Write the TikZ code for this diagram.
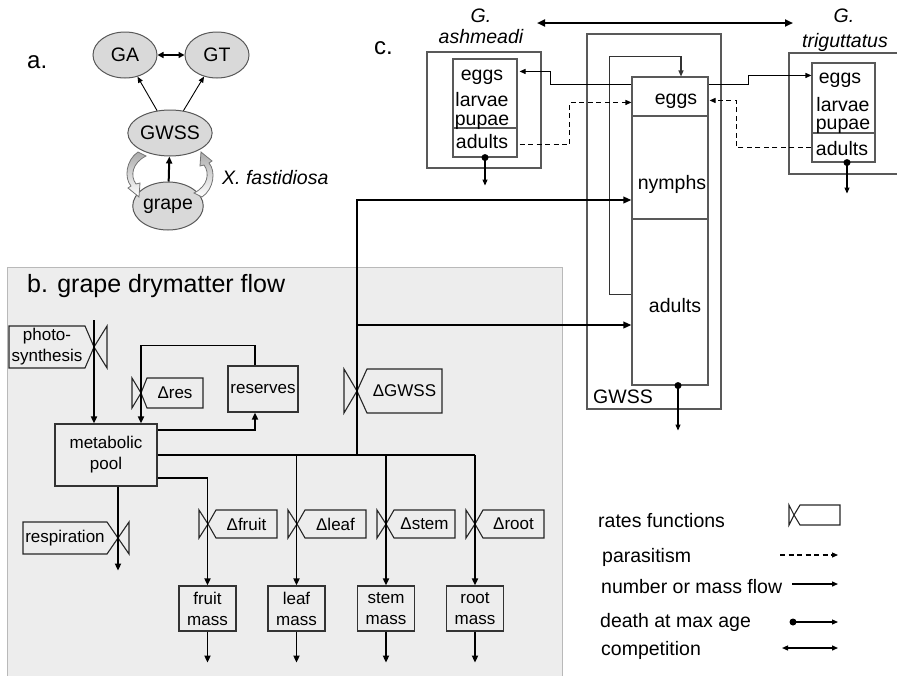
\documentclass[tikz,border=0pt]{standalone}
\usepackage{fontspec}
\setmainfont{Liberation Sans}
\usetikzlibrary{arrows.meta,shapes.geometric,calc}

\newcommand{\fA}{\fontsize{19.5}{22}\selectfont}
\newcommand{\fB}{\fontsize{17}{21}\selectfont}
\newcommand{\fT}{\fontsize{25}{28}\selectfont}
\newcommand{\fL}{\fontsize{24}{28}\selectfont}

% rate function symbol: X, Y, half height, triangle width, chamfer, box length, name, text
\newcommand{\myrate}[8]{%
  \draw[ratesh] ({#1-(#4)},{#2-(#3)}) -- (#1,#2) -- ({#1-(#4)},{#2+(#3)}) -- cycle;
  \draw[ratesh] (#1,#2) -- ({#1+(#5)},{#2-(#3)}) -- ({#1+(#6)},{#2-(#3)}) -- ({#1+(#6)},{#2+(#3)}) -- ({#1+(#5)},{#2+(#3)}) -- cycle;
  \node[ratetxt] (#7) at ({#1+((#5)+(#6))/2},#2) {#8};}

\tikzset{
  flow/.style={line width=1.7pt, -{Triangle[length=7pt,width=6pt]}},
  trunk/.style={line width=1.7pt},
  flowc/.style={line width=1.1pt, -{Triangle[length=6pt,width=5pt]}},
  flowbig/.style={line width=1.8pt, -{Triangle[length=8pt,width=6.5pt]}},
  para/.style={line width=1.1pt, dash pattern=on 5pt off 3.5pt, -{Triangle[length=6pt,width=5pt]}},
  bbox/.style={draw=black!80, line width=1.2pt, align=center, inner sep=0pt, font=\fB},
  cbox/.style={draw=black!65, line width=1.1pt, inner sep=0pt},
  ell/.style={ellipse, draw=black!65, fill=gray!30, line width=1pt, inner sep=0pt, font=\fA},
  ratesh/.style={draw=black!85, line width=1.1pt},
  ratetxt/.style={font=\fB, inner sep=0pt, align=center},
  ctxt/.style={font=\fA, inner sep=0pt, anchor=base},
  ltxt/.style={font=\fA, inner sep=0pt, anchor=base west},
}

\begin{document}
\begin{tikzpicture}[x=1pt,y=-1pt]
\useasboundingbox (0,0) rectangle (897,675);

% ---------------- panel a ----------------
\node[ltxt, font=\fL] (alabel) at (27,68) {a.};
\node[ell, minimum width=64pt, minimum height=46pt] (GA) at (125,55) {GA};
\node[ell, minimum width=64pt, minimum height=46pt] (GT) at (217,55) {GT};
\node[ell, minimum width=65pt, minimum height=46pt] (GW) at (170,133) {GWSS};
\node[ell, minimum width=61pt, minimum height=48pt] (grape) at (168,206) {grape};
\draw[line width=2pt, {Triangle[length=6pt,width=6pt]}-{Triangle[length=6pt,width=6pt]}] (GA) -- (GT);
\draw[line width=0.9pt, -{Triangle[length=6pt,width=5pt]}] (GW) -- (GA);
\draw[line width=0.9pt, -{Triangle[length=6pt,width=5pt]}] (GW) -- (GT);
\draw[line width=2pt, -{Triangle[length=7pt,width=6pt]}] (grape) -- (GW);
\shadedraw[top color=gray!65, bottom color=white, draw=black!55, line width=0.8pt]
  (138,152) .. controls (126,160) and (124,178) .. (131,186) -- (128,188) -- (139,197)
  -- (140,183) -- (136,184) .. controls (130,176) and (132,163) .. (146,156) -- cycle;
\begin{scope}[rotate around={180:(170,174.5)}]
\shadedraw[top color=gray!65, bottom color=white, draw=black!55, line width=0.8pt]
  (138,152) .. controls (126,160) and (124,178) .. (131,186) -- (128,188) -- (139,197)
  -- (140,183) -- (136,184) .. controls (130,176) and (132,163) .. (146,156) -- cycle;
\end{scope}
\node[ltxt, font=\fA\itshape] (xf) at (222,184) {X. fastidiosa};

% ---------------- panel b ----------------
\fill[gray!14] (7,267) rectangle (562,690);
\draw[gray!55, line width=1pt] (7,690) -- (7,267) -- (562,267) -- (562,690);
\node[ltxt, font=\fT] (btitle) at (27,292) {b. grape drymatter flow};

\node[bbox, minimum width=102pt, minimum height=62pt] (pool) at (106,455) {metabolic\\pool};
\node[bbox, minimum width=70pt, minimum height=46pt] (res) at (263,389) {reserves};
\node[bbox, minimum width=57pt, minimum height=45pt] (fruit) at (207.5,608.5) {fruit\\mass};
\node[bbox, minimum width=57pt, minimum height=45pt] (leaf) at (296.5,608.5) {leaf\\mass};
\node[bbox, minimum width=57pt, minimum height=45pt] (stem) at (386,608.5) {stem\\mass};
\node[bbox, minimum width=57pt, minimum height=45pt] (root) at (475,608.5) {root\\mass};

\myrate{94}{347}{21}{-13}{-9}{-85}{rphoto}{photo-\\synthesis}
\myrate{141}{393}{15}{9}{6}{62}{rres}{Δres}
\myrate{357}{391}{22}{13}{10}{85}{rgwss}{ΔGWSS}
\myrate{118}{538}{16}{-11}{-11}{-95}{rresp}{respiration}
\myrate{208}{524}{14}{9}{8}{69}{rfruit}{Δfruit}
\myrate{297}{524}{14}{9}{8}{69}{rleaf}{Δleaf}
\myrate{386}{524}{14}{9}{8}{69}{rstem}{Δstem}
\myrate{475}{524}{14}{9}{8}{69}{rroot}{Δroot}

\coordinate (phtop) at (94,320);
\draw[flow] (phtop) -- ([xshift=-12pt]pool.north);
\draw[flow] ([xshift=-8pt]res.north) -- ++(0,-20) -| ([xshift=35pt]pool.north);
\draw[flow] ([yshift=25pt]pool.east) -| ([xshift=-8pt]res.south);
\draw[trunk] (pool.east) -- (root.north |- pool.east);
\draw[flow] ([yshift=-23pt]pool.east) -| (fruit.north);
\draw[flow] (leaf.north |- pool.east) -- (leaf.north);
\draw[flow] (stem.north |- pool.east) -- (stem.north);
\draw[flow] (root.north |- pool.east) -- (root.north);
\draw[flow] ([xshift=12pt]pool.south) -- ++(0,84);
\draw[flow] (fruit.south) -- ++(0,31);
\draw[flow] (leaf.south) -- ++(0,31);
\draw[flow] (stem.south) -- ++(0,31);
\draw[flow] (root.south) -- ++(0,31);

% ---------------- panel c ----------------
\node[ltxt, font=\fL] (clabel) at (374,54) {c.};
\coordinate (compL) at (537,23);
\coordinate (compR) at (793,23);
\draw[line width=2pt, {Triangle[length=8pt,width=7pt]}-{Triangle[length=8pt,width=7pt]}] (compL) -- (compR);

% G. ashmeadi
\node[ctxt, font=\fA\itshape] (ashG) at (481,22) {G.};
\node[ctxt, font=\fA\itshape] (ashN) at (481,43) {ashmeadi};
\draw[cbox] (427,52) rectangle (541,168);
\node[cbox, minimum width=64pt, minimum height=98pt] (ashin) at (485,108) {};
\draw[cbox] (453,128) -- (517,128);
\node[ctxt] (ashE) at (482,80) {eggs};
\node[ctxt] (ashL) at (482,106) {larvae};
\node[ctxt] (ashP) at (482,125) {pupae};
\node[ctxt] (ashA) at (482,148) {adults};

% G. triguttatus
\node[ctxt, font=\fA\itshape] (triG) at (844,22) {G.};
\node[ctxt, font=\fA\itshape] (triN) at (845,47) {triguttatus};
\draw[cbox] (905,53) -- (789,53) -- (789,174) -- (905,174);
\node[cbox, minimum width=63pt, minimum height=99pt] (triin) at (843.5,112.5) {};
\draw[cbox] (812,133) -- (875,133);
\node[ctxt] (triE) at (840,83) {eggs};
\node[ctxt] (triL) at (843,111) {larvae};
\node[ctxt] (triP) at (843,129) {pupae};
\node[ctxt] (triA) at (842,155) {adults};

% GWSS
\draw[cbox] (587,34) rectangle (721,409);
\node[ltxt] (gwlab) at (593,403) {GWSS};
\node[cbox, minimum width=76pt, minimum height=308pt] (gwssin) at (670,231) {};
\draw[cbox] (632,116) -- (708,116);
\draw[cbox] (632,219) -- (708,219);
\node[ctxt] (gwE) at (676,104) {eggs};
\node[ctxt] (gwN) at (672,189) {nymphs};
\node[ctxt] (gwA) at (675,312) {adults};

% connectors panel c
\draw[flowc, draw=black!80] ([yshift=91pt]gwssin.south west) -- ++(-22,0) -- ++(0,-238) -| ([xshift=11pt]gwssin.north);
\draw[flowc] ([yshift=-8pt]gwssin.north west) -- ++(-81,0) |- ([xshift=2pt,yshift=-13pt]ashin.north east);
\draw[flowc] ([yshift=-8pt]gwssin.north east) -- ++(40,0) |- ([yshift=-13pt]triin.north west);
\draw[para] ([xshift=2pt,yshift=13pt]ashin.south east) -- ++(50,0) |- ([yshift=-26pt]gwssin.north west);
\draw[para] ([yshift=15pt]triin.south west) -- ++(-75,0) |- ([xshift=1pt,yshift=-24pt]gwssin.north east);

\fill (ashin.south) circle[radius=3.5pt];
\draw[flowc] (ashin.south) -- ++(0,28);
\fill ([xshift=3.5pt]triin.south) circle[radius=3.5pt];
\draw[flowc] ([xshift=3.5pt]triin.south) -- ++(0,31);
\fill ([xshift=8pt]gwssin.south) circle[radius=3.5pt];
\draw[flowc] ([xshift=8pt]gwssin.south) -- ++(0,45);

% flows from plant to GWSS
\coordinate (gb) at (357,455);
\coordinate (gbn) at (357,200);
\coordinate (gba) at (357,325);
\draw[flowbig] (gb) -- (gbn) -- ([yshift=31pt]gwssin.west);
\draw[flowbig] (gba) -- ([yshift=-94pt]gwssin.west);

% ---------------- legend ----------------
\node[ltxt] (lg1) at (598,527) {rates functions};
\node[ltxt] (lg2) at (602,562) {parasitism};
\node[ltxt] (lg3) at (601,593) {number or mass flow};
\node[ltxt] (lg4) at (600,627) {death at max age};
\node[ltxt] (lg5) at (601,655) {competition};
\myrate{794}{515}{10}{5}{6}{46}{lgrate}{}
\coordinate (p1) at (780,555); \coordinate (p2) at (838,555);
\draw[para] (p1) -- (p2);
\coordinate (f1) at (792,584); \coordinate (f2) at (838,584);
\draw[flowc, line width=1.3pt] (f1) -- (f2);
\coordinate (d1) at (793,622); \coordinate (d2) at (838,622);
\fill (d1) circle[radius=3.5pt];
\draw[flowc] (d1) -- (d2);
\coordinate (c1) at (782,648); \coordinate (c2) at (838,648);
\draw[line width=1.3pt, {Triangle[length=6pt,width=5pt]}-{Triangle[length=6pt,width=5pt]}] (c1) -- (c2);
\end{tikzpicture}
\end{document}
